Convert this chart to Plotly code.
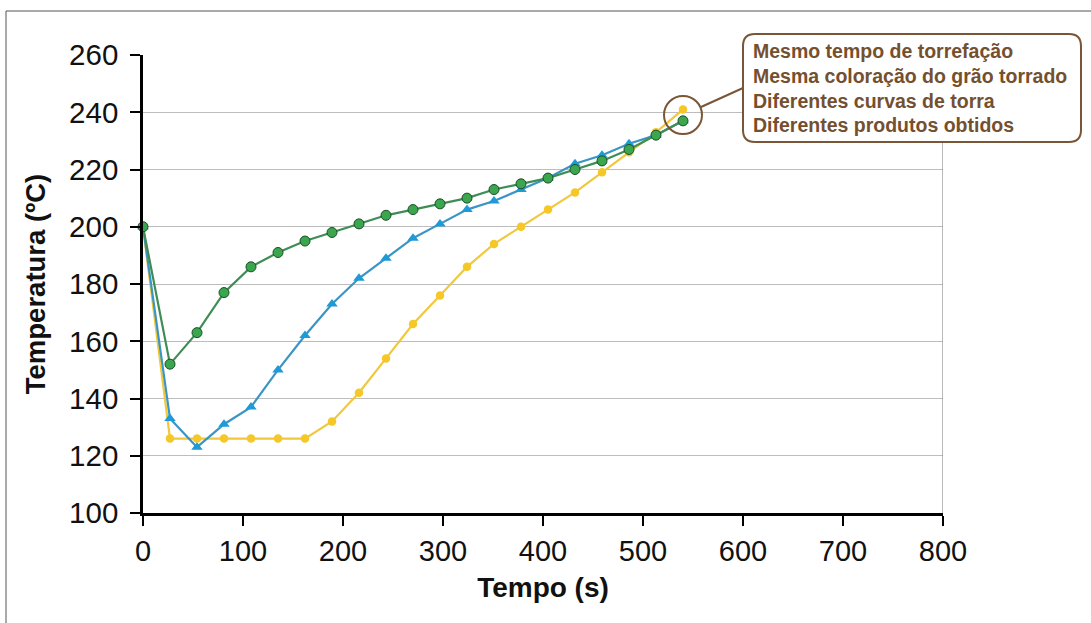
import plotly.graph_objects as go

tempo = [0, 27, 54, 81, 108, 135, 162, 189, 216, 243, 270, 297, 324, 351, 378, 405, 432, 459, 486, 513, 540]
curva_verde = [200, 152, 163, 177, 186, 191, 195, 198, 201, 204, 206, 208, 210, 213, 215, 217, 220, 223, 227, 232, 237]
curva_azul = [200, 133, 123, 131, 137, 150, 162, 173, 182, 189, 196, 201, 206, 209, 213, 217, 222, 225, 229, 232, 237]
curva_amarela = [200, 126, 126, 126, 126, 126, 126, 132, 142, 154, 166, 176, 186, 194, 200, 206, 212, 219, 226, 233, 241]
x_ticks = [0, 100, 200, 300, 400, 500, 600, 700, 800]
y_ticks = [100, 120, 140, 160, 180, 200, 220, 240, 260]
notas = ["Mesmo tempo de torrefação", "Mesma coloração do grão torrado",
         "Diferentes curvas de torra", "Diferentes produtos obtidos"]

W, H = 1091, 623
L, R, T, B = 143, 148, 55, 110
PW, PH = W - L - R, H - T - B

def px(xp):
    return (xp - L) / PW

def py(yp):
    return (H - B - yp) / PH

fig = go.Figure()
fig.add_trace(go.Scatter(x=tempo, y=curva_amarela, mode="lines+markers",
                         line=dict(color="#f1c83c", width=2.2),
                         marker=dict(symbol="circle", size=8.5, color="#f5c727"),
                         showlegend=False, cliponaxis=False))
fig.add_trace(go.Scatter(x=tempo, y=curva_azul, mode="lines+markers",
                         line=dict(color="#3b95c4", width=2.2),
                         marker=dict(symbol="triangle-up", size=10, color="#1e9ad6"),
                         showlegend=False, cliponaxis=False))
fig.add_trace(go.Scatter(x=tempo, y=curva_verde, mode="lines+markers",
                         line=dict(color="#3f8d55", width=2.2),
                         marker=dict(symbol="circle", size=10, color="#3aa64e",
                                     line=dict(color="#1d4d2a", width=1)),
                         showlegend=False, cliponaxis=False))

shapes = []
# right border of plot area
shapes.append(dict(type="line", xref="x", yref="y", x0=800, x1=800, y0=100, y1=260,
                   line=dict(color="#8a8a8a", width=1.2)))
# outer frame (left and top)
shapes.append(dict(type="line", xref="paper", yref="paper", x0=px(6), x1=px(6), y0=py(11), y1=py(640),
                   line=dict(color="#555555", width=1)))
shapes.append(dict(type="line", xref="paper", yref="paper", x0=px(6), x1=px(1100), y0=py(11), y1=py(11),
                   line=dict(color="#555555", width=1)))
# circle highlight
brown = "#7a5536"
cx, cy, rr = 683, 115, 19
shapes.append(dict(type="circle", xref="paper", yref="paper",
                   x0=px(cx - rr), x1=px(cx + rr), y0=py(cy + rr), y1=py(cy - rr),
                   line=dict(color=brown, width=2)))
# connector
shapes.append(dict(type="line", xref="paper", yref="paper",
                   x0=px(701), y0=py(107), x1=px(743), y1=py(88),
                   line=dict(color=brown, width=2)))
# rounded box
bx0, bx1, by0, by1, rad = 743, 1081, 34, 142, 12
def P(xp, yp):
    return f"{px(xp):.5f},{py(yp):.5f}"
path = (f"M {P(bx0 + rad, by0)} L {P(bx1 - rad, by0)} Q {P(bx1, by0)} {P(bx1, by0 + rad)} "
        f"L {P(bx1, by1 - rad)} Q {P(bx1, by1)} {P(bx1 - rad, by1)} "
        f"L {P(bx0 + rad, by1)} Q {P(bx0, by1)} {P(bx0, by1 - rad)} "
        f"L {P(bx0, by0 + rad)} Q {P(bx0, by0)} {P(bx0 + rad, by0)} Z")
shapes.append(dict(type="path", xref="paper", yref="paper", path=path,
                   line=dict(color=brown, width=2), fillcolor="white"))

annotations = []
ys = [51, 76, 100.5, 125]
for txt, yy in zip(notas, ys):
    annotations.append(dict(xref="paper", yref="paper", x=px(751), y=py(yy),
                            xanchor="left", yanchor="middle", showarrow=False,
                            text=f"<b>{txt}</b>",
                            font=dict(family="Liberation Sans, Arial", size=19.5, color="#74502f")))

fig.update_layout(
    width=W, height=H,
    margin=dict(l=L, r=R, t=T, b=B),
    paper_bgcolor="white", plot_bgcolor="white",
    font=dict(family="Liberation Sans, Arial", color="#111111"),
    shapes=shapes, annotations=annotations,
    xaxis=dict(range=[0, 800], tickvals=x_ticks, ticktext=[str(v) for v in x_ticks],
               showgrid=False, zeroline=False, showline=True, linecolor="black", linewidth=2.5,
               ticks="outside", ticklen=10, tickwidth=2, tickcolor="black",
               tickfont=dict(size=29, color="#111111"),
               title=dict(text="<b>Tempo (s)</b>", font=dict(size=28, color="#111111"), standoff=12)),
    yaxis=dict(range=[100, 260], tickvals=y_ticks, ticktext=[str(v) for v in y_ticks],
               showgrid=True, gridcolor="#bdbdbd", gridwidth=1, zeroline=False,
               showline=True, linecolor="black", linewidth=2.5,
               ticks="outside", ticklen=10, tickwidth=2, tickcolor="black",
               ticklabelstandoff=6,
               tickfont=dict(size=29.5, color="#111111"),
               title=dict(text="<b>Temperatura (ºC)</b>", font=dict(size=27.5, color="#111111"), standoff=16)),
)

fig.write_html("out.html")
